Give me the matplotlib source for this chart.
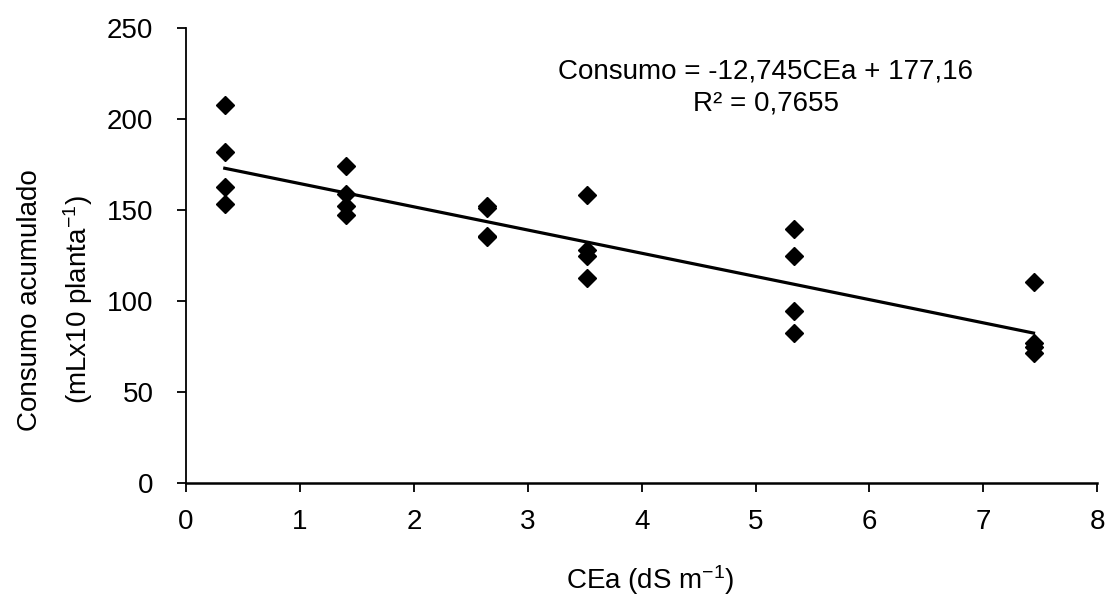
import numpy as np
import matplotlib.pyplot as plt

plt.rcParams['font.family'] = ['Liberation Sans', 'DejaVu Sans']
plt.rcParams['mathtext.fontset'] = 'custom'
plt.rcParams['mathtext.rm'] = 'Liberation Sans'
plt.rcParams['mathtext.default'] = 'regular'

# CEa levels (dS m-1), 4 repetitions each
cea = [0.34] * 4 + [1.40] * 4 + [2.64] * 4 + [3.52] * 4 + [5.34] * 4 + [7.44] * 4
consumo = [207.6, 181.5, 162.7, 153.1,
           174.2, 158.7, 152.2, 147.3,
           152.0, 151.0, 135.5, 135.0,
           158.2, 128.0, 124.7, 112.3,
           139.4, 124.7, 94.7, 82.3,
           110.6, 77.0, 74.6, 71.5]

# ajuste lineal
pendiente = -12.745
intercepto = 177.16
r2 = 0.7655


def coma(v, d):
    return f'{v:.{d}f}'.replace('.', ',')


fig = plt.figure(figsize=(11.14, 6.03), dpi=100)
ax = fig.add_axes([0.167, 0.199, 0.818, 0.755])

ax.plot(cea, consumo, linestyle='none', marker='D', markersize=9.5,
        color='black')

xl = np.array([min(cea), max(cea)])
ax.plot(xl, pendiente * xl + intercepto, color='black', linewidth=2.3)

ax.set_xlim(0, 8)
ax.set_ylim(0, 250)
ax.set_xticks(range(0, 9))
ax.set_yticks(range(0, 251, 50))
ax.spines['top'].set_visible(False)
ax.spines['right'].set_visible(False)
ax.spines['left'].set_linewidth(1.3)
ax.spines['bottom'].set_linewidth(1.8)
ax.tick_params(axis='both', labelsize=20, length=6.5, width=1.3, direction='out')
ax.tick_params(axis='x', pad=12)
ax.tick_params(axis='y', pad=17)

fig.text(650 / 1114, 1 - 580 / 603, 'CEa (dS m$^{-1}$)', fontsize=20,
         ha='center', va='center')
fig.text(30 / 1114, 1 - 300 / 603, 'Consumo acumulado', fontsize=20,
         rotation=90, ha='center', va='center')
fig.text(78 / 1114, 1 - 300 / 603, '(mLx10 planta$^{-1}$)', fontsize=20,
         rotation=90, ha='center', va='center')

ecuacion = f'Consumo = -{coma(abs(pendiente), 3)}CEa + {coma(intercepto, 2)}'
fig.text(766 / 1114, 1 - 79 / 603, ecuacion, fontsize=20,
         ha='center', va='baseline')
fig.text(766 / 1114, 1 - 111 / 603, f'R² = {coma(r2, 4)}', fontsize=20,
         ha='center', va='baseline')

fig.savefig('out.png', dpi=100)
